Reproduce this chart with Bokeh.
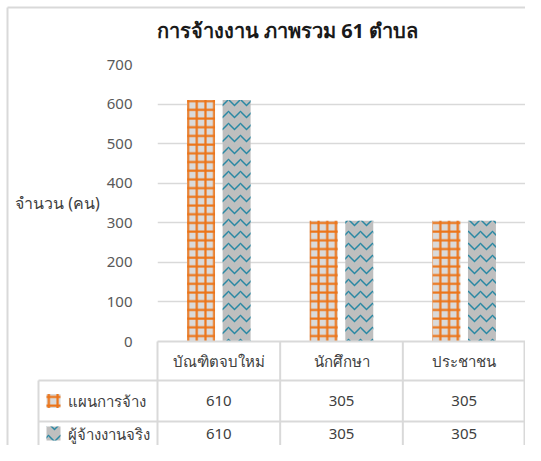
from bokeh.plotting import figure
from bokeh.models import Range1d, FactorRange, FixedTicker, ColumnDataSource
from bokeh.transform import dodge
from bokeh.embed import file_html
from bokeh.resources import INLINE
from bokeh.core.properties import value

# ---- data ----
categories = ["บัณฑิตจบใหม่", "นักศึกษา", "ประชาชน"]
series_names = ["แผนการจ้าง", "ผู้จ้างงานจริง"]
planned = [610, 305, 305]
actual = [610, 305, 305]
y_ticks = [0, 100, 200, 300, 400, 500, 600, 700]
title_text = "การจ้างงาน ภาพรวม 61 ตำบล"
y_label = "จำนวน (คน)"

# ---- style / geometry ----
FONT = "Noto Sans"
TXT = "#404040"
GRID = "#d9d9d9"
ORANGE = "#EC7418"
TEAL = "#2A88A3"
FILL1 = "#dadada"
FILL2 = "#bfbfbf"
W, H = 525, 445
LEFT, TOP, BOTTOM = 157, 64, 104
YMAX = 700
FRAME_W = W - LEFT
FRAME_H = H - TOP - BOTTOM
COL_W = FRAME_W / len(categories)


def sx(px):
    # canvas pixel x -> synthetic x coordinate
    return (px - LEFT) / COL_W


def sy(py):
    # canvas pixel y (from top) -> data y coordinate
    return YMAX * (1 - (py - TOP) / FRAME_H)


series_style = [
    dict(fill_color=FILL1, hatch_pattern="+", hatch_color=ORANGE, hatch_weight=2.2, hatch_scale=8.7),
    dict(fill_color=FILL2, hatch_pattern="v", hatch_color=TEAL, hatch_weight=1.5, hatch_scale=12),
]
series_values = [planned, actual]
offsets = [-0.145, 0.145]

p = figure(width=W, height=H,
           x_range=FactorRange(*categories, range_padding=0),
           y_range=Range1d(0, YMAX),
           output_backend="svg", toolbar_location=None,
           min_border_left=LEFT, min_border_right=0,
           min_border_top=TOP, min_border_bottom=BOTTOM)
p.outline_line_color = None
p.xaxis.visible = False
p.xgrid.visible = False
p.ygrid.grid_line_color = GRID
p.ygrid.grid_line_width = 1.5

ax = p.yaxis[0]
ax.ticker = FixedTicker(ticks=y_ticks)
ax.axis_line_color = None
ax.major_tick_line_color = None
ax.minor_tick_line_color = None
ax.major_label_standoff = 19
ax.major_label_text_font = FONT
ax.major_label_text_font_size = "15px"
ax.major_label_text_color = "#595959"
ax.axis_label = y_label
ax.axis_label_orientation = "horizontal"
ax.axis_label_standoff = 4
ax.axis_label_text_font = FONT
ax.axis_label_text_font_size = "16px"
ax.axis_label_text_font_style = "normal"
ax.axis_label_text_color = TXT

src = ColumnDataSource(dict(cat=categories, s0=planned, s1=actual))
for i in range(2):
    p.vbar(x=dodge("cat", offsets[i], range=p.x_range), top="s%d" % i, width=0.228,
           source=src, line_color=None, **series_style[i])

# ---- chart title (drawn as text above the plot area) ----
p.text(x=[sx(287)], y=[sy(30)], text=[title_text], text_align="center",
       text_baseline="middle", text_font=value(FONT), text_font_size="20px",
       text_font_style="bold", text_color="#1a1a1a", level="overlay")

# ---- data table below the plot (drawn unclipped at overlay level) ----
tab_left = 38
r0, r1, r2 = TOP + FRAME_H, TOP + FRAME_H + 39, TOP + FRAME_H + 80
hx0 = [sx(LEFT), sx(tab_left), sx(tab_left)]
hx1 = [sx(W), sx(W), sx(W)]
hy = [sy(r0), sy(r1), sy(r2)]
p.segment(x0=hx0, y0=hy, x1=hx1, y1=hy, line_color=GRID, line_width=2, level="overlay")
vx = [float(i) for i in range(len(categories))] + [sx(W - 1)]
p.segment(x0=vx, y0=[sy(r0)] * len(vx), x1=vx, y1=[sy(H)] * len(vx),
          line_color=GRID, line_width=2, level="overlay")
p.segment(x0=[sx(tab_left)], y0=[sy(r1)], x1=[sx(tab_left)], y1=[sy(H)],
          line_color=GRID, line_width=2, level="overlay")
# outer chart border (left and top)
BX, BY = 7, 7
p.segment(x0=[sx(BX), sx(BX)], y0=[sy(H), sy(BY)], x1=[sx(BX), sx(W)], y1=[sy(BY), sy(BY)],
          line_color=GRID, line_width=2, level="overlay")

p.text(x=categories, y=[sy((r0 + r1) / 2)] * len(categories), text=categories,
       text_align="center", text_baseline="middle", text_font=value(FONT),
       text_font_size="15px", text_color=TXT, level="overlay")

row_centers = [(r1 + r2) / 2, r2 + 12]
for i in range(2):
    yc = sy(row_centers[i])
    p.rect(x=[sx(tab_left + 15)], y=[yc], width=14, height=14,
           width_units="screen", height_units="screen",
           line_color=None, level="overlay", **series_style[i])
    p.text(x=[sx(tab_left + 29)], y=[yc], text=[series_names[i]], text_align="left",
           text_baseline="middle", text_font=value(FONT), text_font_size="15px",
           text_color=TXT, level="overlay")
    p.text(x=categories, y=[yc] * len(categories), text=[str(v) for v in series_values[i]],
           text_align="center", text_baseline="middle", text_font=value(FONT),
           text_font_size="15px", text_color=TXT, level="overlay")

open("out.html", "w").write(file_html(p, INLINE))
